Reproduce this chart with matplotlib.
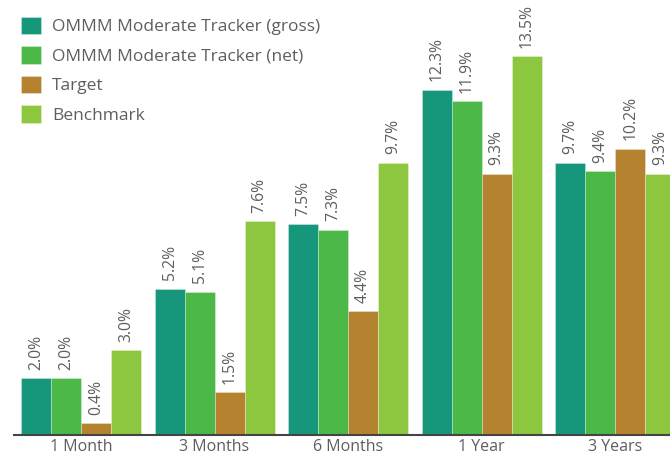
import numpy as np
import matplotlib.pyplot as plt

categories = ["1 Month", "3 Months", "6 Months", "1 Year", "3 Years"]
series_names = ["OMMM Moderate Tracker (gross)", "OMMM Moderate Tracker (net)",
                "Target", "Benchmark"]
gross = [2.0, 5.2, 7.5, 12.3, 9.7]
net = [2.0, 5.1, 7.3, 11.9, 9.4]
target = [0.4, 1.5, 4.4, 9.3, 10.2]
benchmark = [3.0, 7.6, 9.7, 13.5, 9.3]
colors = ["#16967A", "#4BB848", "#B5832F", "#8DC63F"]

plt.rcParams["font.family"] = ["Open Sans", "DejaVu Sans"]
text_color = "#5e5e5e"

fig = plt.figure(figsize=(6.7, 4.55), dpi=100)
ax = fig.add_axes([0.0212, 0.045, 0.9967, 0.955])

x = np.arange(len(categories))
width = 0.2246
for k, (vals, col) in enumerate(zip([gross, net, target, benchmark], colors)):
    pos = x + (k - 1.5) * width
    ax.bar(pos, vals, width, color=col, edgecolor=(1, 1, 1, 0.35), linewidth=0.6,
           label=series_names[k])
    for p, v in zip(pos, vals):
        ax.text(p, v + 0.3, "{:.1f}%".format(v), rotation=90, ha="center", va="bottom",
                fontsize=11.3, color=text_color)

ax.set_xlim(-0.5, 4.5)
ax.set_ylim(0, 15.5)
ax.set_xticks(x)
ax.set_xticklabels(categories, fontsize=11.5, color=text_color)
ax.tick_params(axis="x", length=0, pad=3)
ax.set_yticks([])
for s in ["top", "right", "left"]:
    ax.spines[s].set_visible(False)
ax.spines["bottom"].set_color("#444444")
ax.spines["bottom"].set_linewidth(1.5)

leg = ax.legend(loc="upper left", bbox_to_anchor=(0.0, 0.978), frameon=False,
                fontsize=12.5, handlelength=1.15, handleheight=1.2, handletextpad=0.63,
                labelspacing=0.62, borderaxespad=0, borderpad=0.4)
for t in leg.get_texts():
    t.set_color(text_color)

fig.savefig("out.png", dpi=100)
